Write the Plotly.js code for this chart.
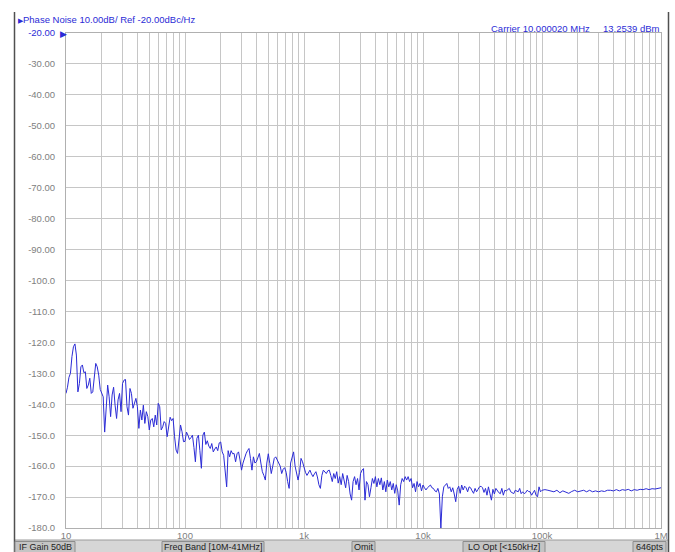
<!DOCTYPE html>
<html><head><meta charset="utf-8">
<script src="https://cdn.plot.ly/plotly-3.0.1.min.js"></script>
<style>html,body{margin:0;padding:0;background:#fff}#chart{width:675px;height:552px}</style>
</head><body><div id="chart"></div>
<script>
// ---- data: offset frequency (Hz) and phase noise (dBc/Hz), read per decade ----
const freqD1 = [10,10.29,10.59,10.9,11.22,11.55,11.89,12.23,12.59,12.96,13.34,13.73,14.13,14.54,14.96,15.4,15.85,16.31,16.79,17.28,17.78,18.3,18.84,19.39,19.95,20.54,21.13,21.75,22.39,23.04,23.71,24.41,25.12,25.85,26.61,27.38,28.18,29.01,29.85,30.73,31.62,32.55,33.5,34.48,35.48,36.52,37.58,38.68,39.81,40.97,42.17,43.4,44.67,45.97,47.32,48.7,50.12,51.58,53.09,54.64,56.23,57.88,59.57,61.31,63.1,64.94,66.83,68.79,70.79,72.86,74.99,77.18,79.43,81.75,84.14,86.6,89.13,91.73,94.41,97.16];
const pnD1 = [-136.5,-134.5,-131.3,-130,-124.6,-121.4,-120.5,-124.1,-136,-133.3,-127.9,-127.3,-129.8,-129.5,-134.9,-133.8,-131.6,-136.5,-136,-131.1,-126.8,-127.9,-130.6,-135.2,-136.5,-137.6,-149,-139.2,-133.8,-137.6,-144,-137,-134.5,-140.3,-144.6,-138.6,-136.5,-142.4,-133.3,-132.2,-132,-140.8,-143.5,-134.9,-136.5,-141.3,-139.7,-138.1,-140.8,-147.8,-141.9,-145.1,-140.3,-146.2,-142.4,-144,-148.3,-145.1,-144.6,-147.3,-143.5,-146.7,-139.7,-140.8,-148.3,-147.3,-145.6,-146.2,-150.5,-147.8,-144.2,-145.3,-144.6,-150.5,-154.8,-155.9,-151,-146.7,-148.9,-152.1];

const freqD2 = [100,102.9,105.9,109,112.2,115.5,118.9,122.3,125.9,129.6,133.4,137.3,141.3,145.4,149.6,154,158.5,163.1,167.9,172.8,177.8,183,188.4,193.9,199.5,205.4,211.3,217.5,223.9,230.4,237.1,244.1,251.2,258.5,266.1,273.8,281.8,290.1,298.5,307.3,316.2,325.5,335,344.8,354.8,365.2,375.8,386.8,398.1,409.7,421.7,434,446.7,459.7,473.2,487,501.2,515.8,530.9,546.4,562.3,578.8,595.7,613.1,631,649.4,668.3,687.9,707.9,728.6,749.9,771.8,794.3,817.5,841.4,866,891.3,917.3,944.1,971.6];
const pnD2 = [-152,-149,-150,-151.4,-150.8,-150,-154,-158.6,-151,-150,-155,-160.7,-150,-149,-153,-151.8,-153.5,-154.3,-152.7,-155.4,-154.5,-153.8,-155,-152.5,-152.2,-155.4,-156.5,-162,-166.7,-155,-157,-155,-156,-155.9,-158.6,-156,-155.4,-158,-161.3,-159,-157,-156,-155,-154.3,-157.5,-161.3,-157,-159,-158.6,-157,-155.9,-159,-161.8,-163,-164.5,-159,-156,-159.1,-162.4,-160,-157.5,-157,-158,-158.6,-160,-162.4,-161,-160.5,-162,-165,-167.2,-159,-157,-155.4,-160,-162.5,-164.5,-162,-157.5,-158.6];

const freqD3 = [1000,1029,1059,1090,1122,1155,1189,1223,1259,1296,1334,1373,1413,1454,1496,1540,1585,1631,1679,1728,1778,1830,1884,1939,1995,2054,2113,2175,2239,2304,2371,2441,2512,2585,2661,2738,2818,2901,2985,3073,3162,3255,3350,3448,3548,3652,3758,3868,3981,4097,4217,4340,4467,4597,4732,4870,5012,5158,5309,5464,5623,5788,5957,6131,6310,6494,6683,6879,7079,7286,7499,7718,7943,8175,8414,8660,8913,9173,9441,9716];
const pnD3 = [-160.5,-162,-163,-162,-161.3,-162.5,-163.4,-162.5,-161.8,-163.5,-166,-167.2,-163,-161.3,-162,-162.4,-161.5,-161.3,-163,-165,-162.4,-164,-161.8,-165.5,-163.4,-166,-162.4,-164.5,-167,-163,-165,-169,-171,-165,-163.4,-166,-164,-167.7,-162.4,-161.3,-160.8,-171,-165,-166,-169.9,-167,-164,-165.6,-163.4,-166.7,-164,-166,-163.8,-167.7,-165,-168.3,-164.5,-166.7,-165,-167.7,-165.6,-168.8,-166,-168,-172.6,-166,-164,-165,-163.4,-164.5,-163.4,-165,-164,-167,-165.6,-168.3,-165,-166.7,-165.6,-168];

const freqD4 = [10000,10290,10590,10900,11220,11550,11890,12230,12590,12960,13340,13730,14130,14540,14960,15400,15850,16310,16790,17280,17780,18300,18840,19390,19950,20540,21130,21750,22390,23040,23710,24410,25120,25850,26610,27380,28180,29010,29850,30730,31620,32550,33500,34480,35480,36520,37580,38680,39810,40970,42170,43400,44670,45970,47320,48700,50120,51580,53090,54640,56230,57880,59570,61310,63100,64940,66830,68790,70790,72860,74990,77180,79430,81750,84140,86600,89130,91730,94410,97160];
const pnD4 = [-166.1,-167,-167.7,-167,-166.5,-166.1,-167,-167.2,-168,-168.3,-167.2,-169,-180,-169.9,-166.7,-166.1,-165.6,-167.2,-166.7,-168.3,-167,-169,-171.5,-167.5,-166.5,-168.8,-166.1,-167.7,-166.5,-167,-168.3,-166.7,-167,-168,-168.8,-167.2,-168.3,-167.5,-166.7,-166.5,-167,-168.5,-167.2,-169.4,-166.7,-168.9,-171,-167.5,-169,-167.2,-168,-168.6,-168.9,-167.2,-169.4,-167.8,-168,-167.5,-167.2,-168.3,-168.6,-168.9,-167.8,-168,-168.3,-167.2,-168.9,-168.3,-168.9,-168.6,-167.8,-168.2,-168.3,-169.4,-168.5,-167.8,-169.4,-169.9,-166.7,-168.3];

const freqD5 = [100000,105900,112200,118900,125900,133400,141300,149600,158500,167900,177800,188400,199500,211300,223900,237100,251200,266100,281800,298500,316200,335000,354800,375800,398100,421700,446700,473200,501200,530900,562300,595700,631000,668300,707900,749900,794300,841400,891300,944100,1000000];
const pnD5 = [-167.8,-167.6,-167.8,-168,-168.3,-167.8,-168.6,-168,-168.3,-168.8,-168.2,-167.8,-168.3,-168,-167.8,-168.3,-167.8,-168.3,-168,-168.3,-168,-168.2,-167.8,-167.8,-168,-167.6,-168,-167.6,-167.8,-167.5,-168,-167.6,-167.8,-167.5,-167.6,-167.3,-167.6,-167.3,-167.4,-167.2,-167];

// ---- tick labels ----
const xTickVals = [10,20,30,40,50,60,70,80,90,100,200,300,400,500,600,700,800,900,1000,2000,3000,4000,5000,6000,7000,8000,9000,10000,20000,30000,40000,50000,60000,70000,80000,90000,100000,200000,300000,400000,500000,600000,700000,800000,900000,1000000];
const xTickText = ['10','','','','','','','','','100','','','','','','','','','1k','','','','','','','','','10k','','','','','','','','','100k','','','','','','','','','1M'];
const yTickVals = [-20,-30,-40,-50,-60,-70,-80,-90,-100,-110,-120,-130,-140,-150,-160,-170,-180];
const yTickText = ['<span style="color:#2b2bd6">-20.00</span>','-30.00','-40.00','-50.00','-60.00','-70.00','-80.00','-90.00','-100.0','-110.0','-120.0','-130.0','-140.0','-150.0','-160.0','-170.0','-180.0'];

const headerText = 'Phase Noise 10.00dB/ Ref -20.00dBc/Hz';
const carrierText = 'Carrier 10.000020 MHz';
const powerText = '13.2539 dBm';
const statusLabels = ['IF Gain 50dB','Freq Band [10M-41MHz]','Omit','LO Opt [&lt;150kHz]','646pts'];

const freq = freqD1.concat(freqD2, freqD3, freqD4, freqD5);
const pn = pnD1.concat(pnD2, pnD3, pnD4, pnD5);

// ---- geometry helpers (pixel -> paper) ----
const L = 66, R = 661, T = 33, B = 528;
const px = x => (x - L) / (R - L);
const py = y => (B - y) / (B - T);

const BLUE = '#2b2bd6';
const GRID = '#c6c6c6';

const boxes = [[15,75],[162,264],[352,375],[463,545],[633,666]];

const shapes = [
  {type:'rect', xref:'paper', yref:'paper', x0:px(15), x1:px(668.5), y0:py(560), y1:py(540), fillcolor:'#d6d6d6', line:{width:0}},
  {type:'line', xref:'paper', yref:'paper', x0:px(15), x1:px(668.5), y0:py(540), y1:py(540), line:{color:'#9a9a9a', width:1}},
  {type:'line', xref:'paper', yref:'paper', x0:px(14.5), x1:px(14.5), y0:py(12), y1:py(552), line:{color:'#505050', width:1.5}},
  {type:'line', xref:'paper', yref:'paper', x0:px(668.5), x1:px(668.5), y0:py(12), y1:py(552), line:{color:'#505050', width:1.5}}
];
boxes.forEach(b => shapes.push({type:'rect', xref:'paper', yref:'paper', x0:px(b[0]), x1:px(b[1]), y0:py(556), y1:py(541.5), fillcolor:'#c4c4c4', line:{color:'#8c8c8c', width:1}}));

const annotations = [
  {xref:'paper', yref:'paper', x:px(15.5), y:py(19), xanchor:'left', yanchor:'middle', showarrow:false,
   text:'<span style="font-size:7px">▶</span>' + headerText, font:{size:9.5, color:BLUE}},
  {xref:'paper', yref:'paper', x:px(592), y:py(28.5), xanchor:'right', yanchor:'middle', showarrow:false,
   text:carrierText, font:{size:9.5, color:BLUE}},
  {xref:'paper', yref:'paper', x:px(662), y:py(28.5), xanchor:'right', yanchor:'middle', showarrow:false,
   text:powerText, font:{size:9.5, color:BLUE}},
  {xref:'paper', yref:'paper', x:px(63.5), y:py(33.5), xanchor:'center', yanchor:'middle', showarrow:false,
   text:'▶', font:{size:9, color:BLUE}}
];
statusLabels.forEach((s, i) => annotations.push({xref:'paper', yref:'paper', x:px((boxes[i][0]+boxes[i][1])/2), y:py(546.5), xanchor:'center', yanchor:'middle', showarrow:false, text:s, font:{size:9, color:'#1e1e1e'}}));

const layout = {
  width:675, height:552,
  margin:{l:L, r:675-R, t:T, b:552-B, pad:0},
  paper_bgcolor:'#ffffff', plot_bgcolor:'#ffffff',
  showlegend:false,
  font:{family:'"Liberation Sans", Arial, sans-serif', size:9, color:'#808080'},
  xaxis:{type:'log', range:[1,6], tickmode:'array', tickvals:xTickVals, ticktext:xTickText,
    showgrid:true, gridcolor:GRID, gridwidth:1, zeroline:false, showline:true, linecolor:'#b0b0b0', linewidth:1, mirror:true,
    ticks:'', ticklabelstandoff:-1, tickfont:{size:9.5, color:'#808080'}, fixedrange:true},
  yaxis:{range:[-180,-20], tickmode:'array', tickvals:yTickVals, ticktext:yTickText,
    showgrid:true, gridcolor:GRID, gridwidth:1, zeroline:false, showline:true, linecolor:'#b0b0b0', linewidth:1, mirror:true,
    ticks:'', ticklabelstandoff:8, tickfont:{size:9.5, color:'#808080'}, fixedrange:true},
  shapes:shapes,
  annotations:annotations
};

const trace = {x:freq, y:pn, type:'scatter', mode:'lines', line:{color:BLUE, width:1}, hoverinfo:'skip'};

Plotly.newPlot('chart', [trace], layout, {displayModeBar:false, staticPlot:true});
</script>
</body></html>
